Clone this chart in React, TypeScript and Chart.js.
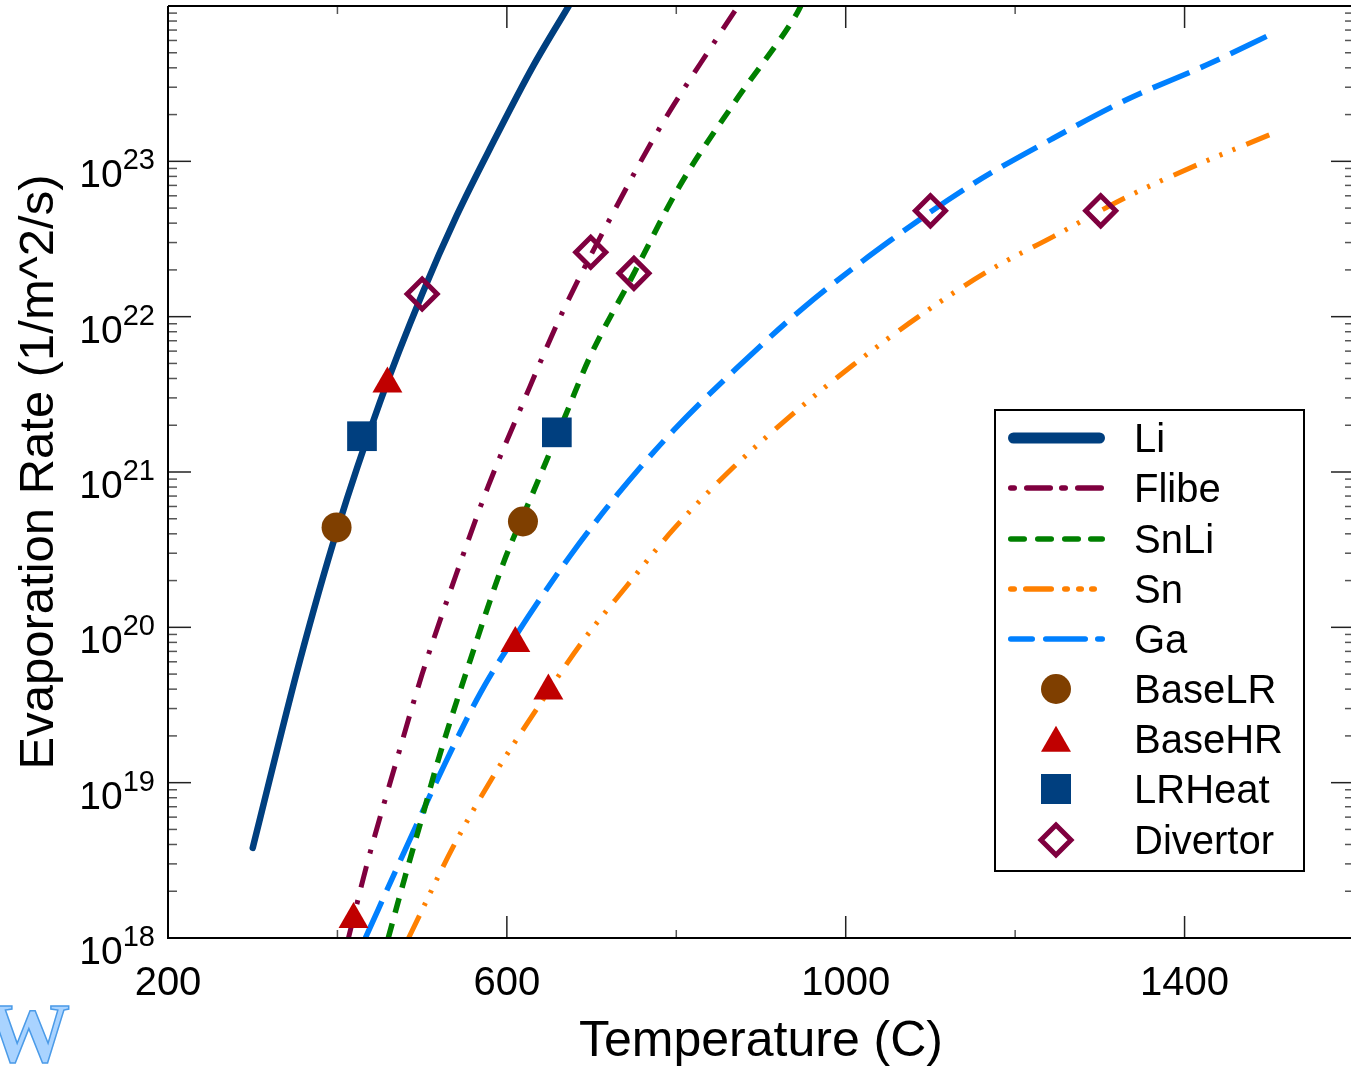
import React, { useEffect, useRef } from 'react';
import { Chart, registerables } from 'chart.js';

Chart.register(...registerables);

// ---- data ----
const liT = [300, 356, 400, 450, 500, 541, 584, 631, 673];
const liV = [3.8e18, 6.2e19, 4.3e20, 2.8e21, 1.4e22, 4.5e22, 1.33e23, 4.1e23, 1.0e24];

const flibeT = [413, 435, 470, 500, 539, 578, 618, 665, 724, 781, 844, 873];
const flibeV = [1.0e18, 3.0e18, 1.4e19, 5.0e19, 2.1e20, 8.1e20, 2.7e21, 1.05e22, 4.5e22, 1.66e23, 5.75e23, 1.0e24];

const snliT = [460, 480, 500, 519, 557, 596, 631, 669, 698, 750, 803, 870, 941, 947];
const snliV = [1.0e18, 2.5e18, 6.0e18, 1.4e19, 6.2e19, 2.6e20, 7.4e20, 2.3e21, 5.5e21, 1.9e22, 6.8e22, 2.45e23, 8.7e23, 1.0e24];

const snT = [484, 537, 584, 632, 687, 742, 797, 868, 939, 1009, 1086, 1167, 1246, 1332, 1415, 1500];
const snV = [1.0e18, 3.9e18, 1.1e19, 2.8e19, 7.8e19, 1.86e20, 4.3e20, 1.08e21, 2.4e21, 4.9e21, 1.0e22, 1.95e22, 3.3e22, 5.9e22, 9.5e22, 1.48e23];

const gaT = [433, 478, 525, 569, 612, 675, 730, 797, 872, 950, 1053, 1151, 1242, 1332, 1427, 1500];
const gaV = [1.0e18, 3.5e18, 1.26e19, 3.8e19, 9.1e19, 2.9e20, 7.1e20, 1.86e21, 4.7e21, 1.14e22, 3.1e22, 7.2e22, 1.38e23, 2.5e23, 4.2e23, 6.5e23];

const baseLRT = [399, 619];
const baseLRV = [4.4e20, 4.8e20];
const baseHRT = [419, 459, 610, 649];
const baseHRV = [1.32e18, 3.7e21, 7.9e19, 3.9e19];
const lrHeatT = [429, 659];
const lrHeatV = [1.7e21, 1.8e21];
const divertorT = [500, 699, 750, 1100, 1301];
const divertorV = [1.4e22, 2.6e22, 1.9e22, 4.8e22, 4.8e22];

const seriesNames = ['Li', 'Flibe', 'SnLi', 'Sn', 'Ga', 'BaseLR', 'BaseHR', 'LRHeat', 'Divertor'];
const xMajorTicks = [200, 600, 1000, 1400];
const xMinorTicks = [400, 800, 1200];
const yDecades = [18, 19, 20, 21, 22, 23];
const yAllDecades = [18, 19, 20, 21, 22, 23, 24];
const xTitle = 'Temperature (C)';
const yTitle = 'Evaporation Rate (1/m^2/s)';

// ---- styles ----
const C_LI = '#003f7f';
const C_FLIBE = '#7f003f';
const C_SNLI = '#008000';
const C_SN = '#ff8000';
const C_GA = '#0080ff';
const C_LR = '#7f3f00';
const C_HR = '#c00000';
const C_HEAT = '#003f7f';
const C_DIV = '#7f003f';
const FONT = "'Liberation Sans', Arial, Helvetica, sans-serif";

const mk = (xs: number[], ys: number[]) => xs.map((x, i) => ({ x, y: ys[i] }));

const decorPlugin = {
  id: 'decor',
  afterDatasetsDraw(chart: any) {
    const { ctx, chartArea: a, scales } = chart;
    const xs = scales.x;
    const ys = scales.y;
    ctx.save();

    const tick = (x1: number, y1: number, x2: number, y2: number, color: string) => {
      ctx.strokeStyle = color;
      ctx.lineWidth = 1.5;
      ctx.beginPath();
      ctx.moveTo(x1, y1);
      ctx.lineTo(x2, y2);
      ctx.stroke();
    };
    for (const d of yAllDecades) {
      const y = ys.getPixelForValue(Math.pow(10, d));
      tick(a.left, y, a.left + 23, y, '#222');
      tick(a.right, y, a.right - 23, y, '#222');
      if (d < 24) {
        for (let m = 2; m <= 9; m++) {
          const ym = ys.getPixelForValue(m * Math.pow(10, d));
          tick(a.left, ym, a.left + 9, ym, '#555');
          tick(a.right, ym, a.right - 9, ym, '#555');
        }
      }
    }
    for (const t of xMajorTicks) {
      const x = xs.getPixelForValue(t);
      tick(x, a.bottom, x, a.bottom - 22, '#222');
      tick(x, a.top, x, a.top + 22, '#222');
    }
    for (const t of xMinorTicks) {
      const x = xs.getPixelForValue(t);
      tick(x, a.bottom, x, a.bottom - 8, '#555');
      tick(x, a.top, x, a.top + 8, '#555');
    }

    // axes box
    ctx.strokeStyle = '#000';
    ctx.lineWidth = 2;
    ctx.beginPath();
    ctx.moveTo(a.left, a.top);
    ctx.lineTo(a.right, a.top);
    ctx.moveTo(a.left, a.top);
    ctx.lineTo(a.left, a.bottom);
    ctx.lineTo(a.right, a.bottom);
    ctx.lineTo(a.right, a.top);
    ctx.stroke();

    // x tick labels
    ctx.fillStyle = '#000';
    ctx.font = `40px ${FONT}`;
    ctx.textAlign = 'center';
    ctx.textBaseline = 'alphabetic';
    for (const t of xMajorTicks) {
      ctx.fillText(String(t), xs.getPixelForValue(t), 995);
    }

    // y tick labels 10^n
    for (const d of yDecades) {
      const y = ys.getPixelForValue(Math.pow(10, d));
      ctx.font = `29px ${FONT}`;
      ctx.textAlign = 'right';
      const ew = ctx.measureText(String(d)).width;
      ctx.fillText(String(d), 155, y + 8);
      ctx.font = `39px ${FONT}`;
      ctx.fillText('10', 155 - ew, y + 26);
    }

    // axis titles
    ctx.font = `50px ${FONT}`;
    ctx.textAlign = 'center';
    ctx.fillText(xTitle, (a.left + a.right) / 2, 1056);
    ctx.font = `49px ${FONT}`;
    ctx.save();
    ctx.translate(53, (a.top + a.bottom) / 2);
    ctx.rotate(-Math.PI / 2);
    ctx.fillText(yTitle, 0, 0);
    ctx.restore();

    // legend
    const lx = 995, ly = 410, lw = 309, lh = 461;
    ctx.fillStyle = '#fff';
    ctx.fillRect(lx, ly, lw, lh);
    ctx.strokeStyle = '#000';
    ctx.lineWidth = 2;
    ctx.strokeRect(lx, ly, lw, lh);

    const rowY = [438, 488, 539, 589, 639, 689, 739, 789, 840];
    const segs = (y: number, color: string, w: number, ranges: number[][]) => {
      ctx.strokeStyle = color;
      ctx.lineWidth = w;
      ctx.lineCap = 'round';
      for (const [s, e] of ranges) {
        ctx.beginPath();
        ctx.moveTo(s + w / 2, y);
        ctx.lineTo(Math.max(s + w / 2, e - w / 2), y);
        ctx.stroke();
      }
    };
    segs(rowY[0], C_LI, 11, [[1008, 1105]]);
    segs(rowY[1], C_FLIBE, 5.5, [[1008, 1017], [1024, 1053], [1059, 1068], [1075, 1104]]);
    segs(rowY[2], C_SNLI, 5.5, [[1008, 1027], [1035, 1054], [1062, 1081], [1088, 1105]]);
    segs(rowY[3], C_SN, 5.5, [[1008, 1017], [1023, 1054], [1062, 1070], [1076, 1084], [1089, 1097]]);
    segs(rowY[4], C_GA, 5.5, [[1008, 1035], [1043, 1088], [1095, 1105]]);
    ctx.lineCap = 'butt';

    const mx = 1056;
    ctx.fillStyle = C_LR;
    ctx.beginPath();
    ctx.arc(mx, rowY[5], 15, 0, Math.PI * 2);
    ctx.fill();
    ctx.fillStyle = C_HR;
    const r = 17.3, ty = rowY[6] + 4;
    ctx.beginPath();
    ctx.moveTo(mx, ty - r);
    ctx.lineTo(mx + r * 0.866, ty + r / 2);
    ctx.lineTo(mx - r * 0.866, ty + r / 2);
    ctx.closePath();
    ctx.fill();
    ctx.fillStyle = C_HEAT;
    ctx.fillRect(mx - 15, rowY[7] - 15, 30, 30);
    ctx.strokeStyle = C_DIV;
    ctx.lineWidth = 5;
    ctx.beginPath();
    ctx.moveTo(mx - 15, rowY[8]);
    ctx.lineTo(mx, rowY[8] - 15);
    ctx.lineTo(mx + 15, rowY[8]);
    ctx.lineTo(mx, rowY[8] + 15);
    ctx.closePath();
    ctx.stroke();

    ctx.fillStyle = '#000';
    ctx.font = `40px ${FONT}`;
    ctx.textAlign = 'left';
    seriesNames.forEach((n, i) => ctx.fillText(n, 1134, rowY[i] + 14));

    // watermark W
    ctx.font = `bold 84px 'Liberation Serif', 'Times New Roman', serif`;
    ctx.textAlign = 'left';
    ctx.fillStyle = '#a9d3ff';
    ctx.fillText('W', -14, 1062);
    ctx.strokeStyle = '#4b9be8';
    ctx.lineWidth = 1.5;
    ctx.strokeText('W', -14, 1062);

    ctx.restore();
  },
};

export default function App() {
  const ref = useRef<HTMLCanvasElement | null>(null);

  useEffect(() => {
    document.body.style.margin = '0';
    document.body.style.overflow = 'hidden';
    const canvas = ref.current;
    if (!canvas) return;

    const line = (label: string, xsArr: number[], ysArr: number[], color: string, width: number, dash: number[], cap: string) => ({
      label,
      data: mk(xsArr, ysArr),
      showLine: true,
      borderColor: color,
      backgroundColor: color,
      borderWidth: width,
      borderDash: dash,
      borderCapStyle: cap,
      pointRadius: 0,
      pointHoverRadius: 0,
      cubicInterpolationMode: 'monotone',
      fill: false,
      order: 1,
    });

    const chart = new Chart(canvas, {
      type: 'scatter',
      data: {
        datasets: [
          {
            label: seriesNames[5],
            data: mk(baseLRT, baseLRV),
            pointStyle: 'circle',
            pointRadius: 15,
            pointBackgroundColor: C_LR,
            pointBorderWidth: 0,
            borderColor: C_LR,
            order: 0,
          },
          {
            label: seriesNames[6],
            data: mk(baseHRT, baseHRV),
            pointStyle: 'triangle',
            pointRadius: 17.3,
            pointBackgroundColor: C_HR,
            pointBorderWidth: 0,
            borderColor: C_HR,
            order: 0,
          },
          {
            label: seriesNames[7],
            data: mk(lrHeatT, lrHeatV),
            pointStyle: 'rect',
            pointRadius: 21,
            pointBackgroundColor: C_HEAT,
            pointBorderWidth: 0,
            borderColor: C_HEAT,
            order: 0,
          },
          {
            label: seriesNames[8],
            data: mk(divertorT, divertorV),
            pointStyle: 'rectRot',
            pointRadius: 15,
            pointBackgroundColor: 'rgba(0,0,0,0)',
            pointBorderColor: C_DIV,
            pointBorderWidth: 5,
            borderColor: C_DIV,
            order: 0,
          },
          line(seriesNames[0], liT, liV, C_LI, 6.5, [], 'round'),
          line(seriesNames[1], flibeT, flibeV, C_FLIBE, 5, [22, 13, 4, 13], 'butt'),
          line(seriesNames[2], snliT, snliV, C_SNLI, 5.5, [15, 11], 'butt'),
          line(seriesNames[3], snT, snV, C_SN, 5, [25, 11, 3, 11, 3, 11, 3, 12], 'butt'),
          line(seriesNames[4], gaT, gaV, C_GA, 5.5, [40, 12, 21, 12], 'butt'),
        ] as any,
      },
      options: {
        animation: false,
        responsive: false,
        maintainAspectRatio: false,
        events: [],
        layout: { autoPadding: false, padding: { top: 6, right: 2, left: 0, bottom: 0 } },
        plugins: {
          legend: { display: false },
          tooltip: { enabled: false },
        },
        scales: {
          x: {
            type: 'linear',
            min: 200,
            max: 1600,
            grid: { display: false },
            border: { display: false },
            ticks: { display: false },
            afterFit: (s: any) => {
              s.height = 129;
              s.paddingLeft = 0;
              s.paddingRight = 0;
            },
          },
          y: {
            type: 'logarithmic',
            min: 1e18,
            max: 1e24,
            grid: { display: false },
            border: { display: false },
            ticks: { display: false },
            afterFit: (s: any) => {
              s.width = 168;
              s.paddingTop = 0;
              s.paddingBottom = 0;
            },
          },
        },
      } as any,
      plugins: [decorPlugin],
    });

    return () => chart.destroy();
  }, []);

  return (
    <div style={{ width: 1351, height: 1067, overflow: 'hidden', position: 'relative', background: '#fff' }}>
      <canvas ref={ref} width={1356} height={1067} style={{ display: 'block', width: 1356, height: 1067 }} />
    </div>
  );
}
